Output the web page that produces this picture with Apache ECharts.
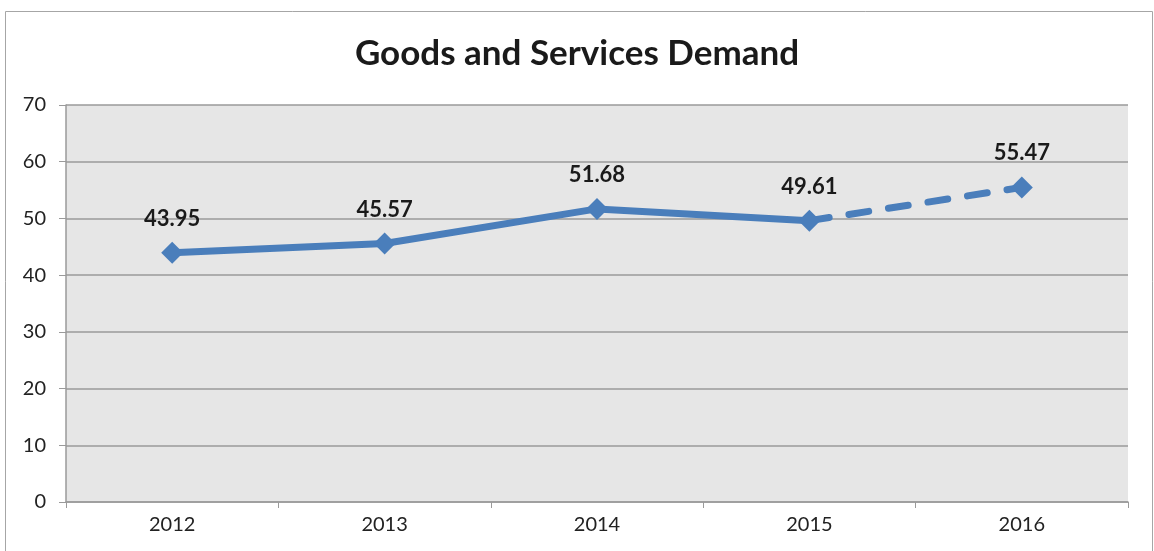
<!DOCTYPE html>
<html>
<head>
<meta charset="utf-8">
<script src="https://cdn.jsdelivr.net/npm/echarts@6/dist/echarts.min.js"></script>
<style>
  html, body { margin: 0; padding: 0; background: #fff; }
  #chart { width: 1154px; height: 551px; }
</style>
</head>
<body>
<div id="chart"></div>
<script>
// 数据
const years = ['2012', '2013', '2014', '2015', '2016'];
const demand = [43.95, 45.57, 51.68, 49.61, 55.47];
const yTicks = [0, 10, 20, 30, 40, 50, 60, 70];
const forecastFrom = 3; // 2015 以后用虚线

const lineColor = '#4a7ebb';
const font = 'Lato, "Open Sans", sans-serif';

// 实线部分和虚线部分
const solidData = demand.map((v, i) => i <= forecastFrom ? v : null);
const dashData = demand.map((v, i) => i >= forecastFrom ? v : null);

const labelStyle = {
  show: true,
  position: 'top',
  distance: 12,
  color: '#1a1a1a',
  fontFamily: font,
  fontWeight: 'bold',
  fontSize: 22,
  formatter: p => p.value.toFixed(2)
};

let chart = echarts.init(document.getElementById('chart'), null, { renderer: 'canvas' });
let option = {
  backgroundColor: '#fff',
  animation: false,
  title: {
    text: 'Goods and Services Demand',
    left: 'center',
    top: 31,
    textStyle: { fontFamily: font, fontWeight: 'bold', fontSize: 35, color: '#1a1a1a' }
  },
  graphic: [{
    type: 'rect',
    shape: { x: 5.5, y: 11.5, width: 1147, height: 560 },
    style: { fill: 'none', stroke: '#a6a6a6', lineWidth: 1 },
    silent: true
  }],
  grid: {
    left: 66, right: 26, top: 105, bottom: 49,
    show: true,
    backgroundColor: '#e6e6e6',
    borderWidth: 0
  },
  xAxis: {
    type: 'category',
    data: years,
    boundaryGap: true,
    axisLine: { lineStyle: { color: '#9a9a9a', width: 1.5 } },
    axisTick: { show: true, length: 6, lineStyle: { color: '#9a9a9a' } },
    axisLabel: { color: '#222', fontFamily: font, fontSize: 20, margin: 13 },
    splitLine: { show: false }
  },
  yAxis: {
    type: 'value',
    min: yTicks[0],
    max: yTicks[yTicks.length - 1],
    interval: 10,
    axisLine: { show: true, lineStyle: { color: '#9a9a9a', width: 1.5 } },
    axisTick: { show: true, length: 7, lineStyle: { color: '#9a9a9a' } },
    axisLabel: { color: '#222', fontFamily: font, fontSize: 20, margin: 20 },
    splitLine: { lineStyle: { color: '#9a9a9a', width: 1.5 } }
  },
  series: [
    {
      type: 'line',
      data: solidData,
      connectNulls: false,
      symbol: 'diamond',
      symbolSize: 22,
      itemStyle: { color: lineColor },
      lineStyle: { color: lineColor, width: 7, cap: 'round', join: 'round' },
      label: labelStyle,
      z: 3
    },
    {
      type: 'line',
      data: dashData.map((v, i) => i === forecastFrom ? { value: v, symbol: 'none', label: { show: false } } : v),
      symbol: 'diamond',
      symbolSize: 22,
      itemStyle: { color: lineColor },
      lineStyle: { color: lineColor, width: 7, type: [20, 20], cap: 'round' },
      label: labelStyle,
      z: 2
    }
  ]
};
chart.setOption(option);
</script>
</body>
</html>
